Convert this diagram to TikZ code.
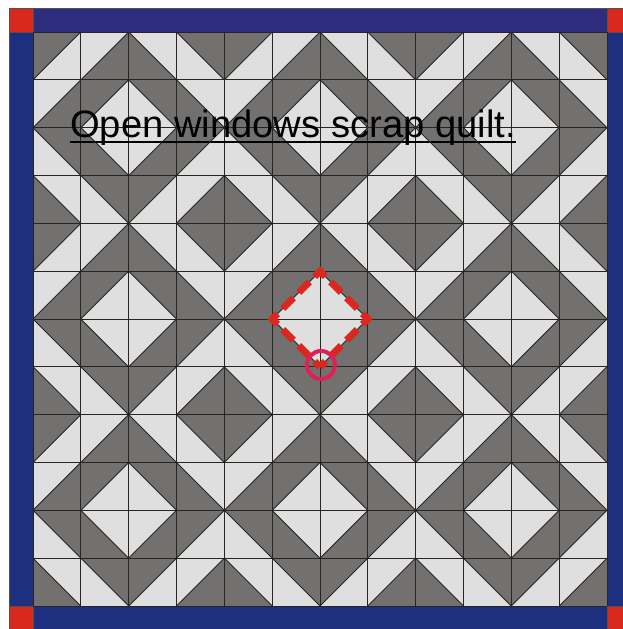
\documentclass[tikz,border=0pt]{standalone}
\usepackage{fontspec}
\setmainfont{Liberation Sans}
\definecolor{qdark}{RGB}{114,113,111}
\definecolor{qlight}{RGB}{223,223,223}
\definecolor{qseam}{RGB}{40,36,34}
\definecolor{qnavytop}{RGB}{46,45,125}
\definecolor{qnavy}{RGB}{31,47,127}
\definecolor{qred}{RGB}{219,40,30}
\definecolor{qpink}{RGB}{222,32,84}
\begin{document}
\begin{tikzpicture}[x=1pt,y=-1pt,
  seam/.style={draw=qseam,line width=0.9pt},
  frame/.style={draw=qseam!80,line width=0.8pt},
  windowmark/.style={draw=qred,line width=7pt,dash pattern=on 15pt off 7.53pt,dash phase=7.5pt},
  focusring/.style={draw=qpink,line width=4pt},
  titletext/.style={font=\fontsize{38.2}{42}\selectfont,text=black,inner sep=0pt,anchor=base west}]
\useasboundingbox (0,0) rectangle (623,629);
\clip (0,0) rectangle (623,629);
\fill[white] (0,0) rectangle (623,629);
% border strips
\filldraw[fill=qnavytop,frame] (33,8) rectangle (607,32);
\filldraw[fill=qnavy,frame] (33,606) rectangle (607,630);
\filldraw[fill=qnavy,frame] (9,32) rectangle (33,606);
\filldraw[fill=qnavy,frame] (607,32) rectangle (631,606);
\foreach \cx/\cy in {9/8,607/8,9/606,607/606}
  \filldraw[fill=qred,frame] (\cx,\cy) rectangle ++(24,24);
% quilt field
\fill[qlight] (33,32) rectangle (607,606);
\foreach \i in {0,...,11}{
  \foreach \j in {0,...,11}{
    \pgfmathtruncatemacro\k{{0,2,3,1,2,0,1,3,1,3,2,0,3,1,0,2}[4*mod(\j,4)+mod(\i,4)]}
    \pgfmathsetmacro\xa{33+47.8333*\i}
    \pgfmathsetmacro\xb{\xa+47.8333}
    \pgfmathsetmacro\ya{32+47.8333*\j}
    \pgfmathsetmacro\yb{\ya+47.8333}
    \ifcase\k
      \fill[qdark] (\xa,\ya) -- (\xb,\ya) -- (\xa,\yb) -- cycle;
      \draw[seam] (\xb,\ya) -- (\xa,\yb);
    \or
      \fill[qdark] (\xa,\ya) -- (\xb,\ya) -- (\xb,\yb) -- cycle;
      \draw[seam] (\xa,\ya) -- (\xb,\yb);
    \or
      \fill[qdark] (\xb,\ya) -- (\xb,\yb) -- (\xa,\yb) -- cycle;
      \draw[seam] (\xb,\ya) -- (\xa,\yb);
    \or
      \fill[qdark] (\xa,\ya) -- (\xb,\yb) -- (\xa,\yb) -- cycle;
      \draw[seam] (\xa,\ya) -- (\xb,\yb);
    \fi
  }
}
\foreach \t in {0,...,12}{
  \draw[seam] (33+47.8333*\t,32) -- (33+47.8333*\t,606);
  \draw[seam] (33,32+47.8333*\t) -- (607,32+47.8333*\t);
}
% title
\node[titletext] (title) at (70,137) {Open windows scrap quilt.};
\draw[line width=2pt] ([yshift=-5pt]title.base west) -- ([yshift=-5pt]title.base east);
% marked window
\draw[windowmark] (320,366.8) -- (272.2,319) -- (320,271.2) -- (367.8,319) -- cycle;
\draw[focusring] (321,365) circle [radius=14pt];
\end{tikzpicture}
\end{document}
